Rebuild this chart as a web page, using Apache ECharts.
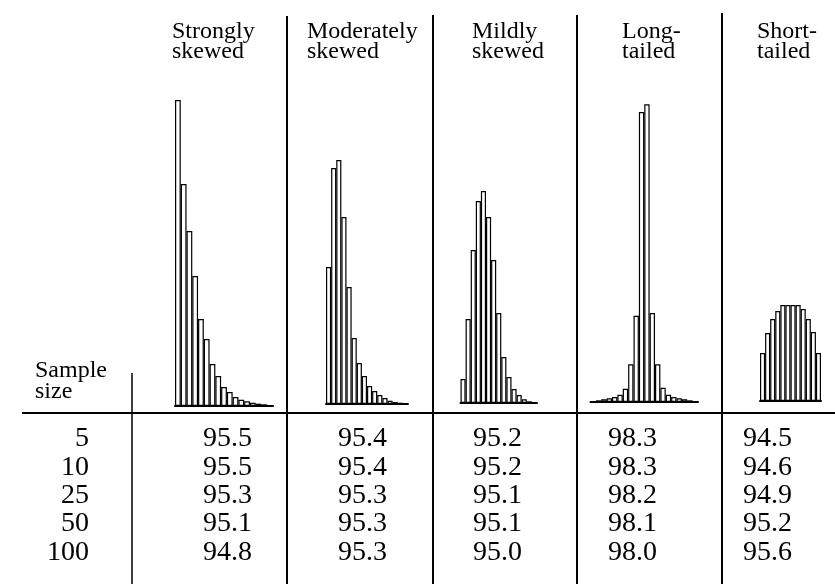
<!DOCTYPE html>
<html>
<head>
<meta charset="utf-8">
<script src="https://cdn.jsdelivr.net/npm/echarts@6/dist/echarts.min.js"></script>
<style>html,body{margin:0;padding:0;background:#fff;}#c{width:835px;height:584px;}</style>
</head>
<body>
<div id="c"></div>
<script>
// ---- data ----
const distributions = ['Strongly\nskewed', 'Moderately\nskewed', 'Mildly\nskewed', 'Long-\ntailed', 'Short-\ntailed'];
const sampleSizes = ['5', '10', '25', '50', '100'];

const coverageStrong   = [95.5, 95.5, 95.3, 95.1, 94.8];
const coverageModerate = [95.4, 95.4, 95.3, 95.3, 95.3];
const coverageMild     = [95.2, 95.2, 95.1, 95.1, 95.0];
const coverageLong     = [98.3, 98.3, 98.2, 98.1, 98.0];
const coverageShort    = [94.5, 94.6, 94.9, 95.2, 95.6];

// histogram bar heights (relative frequency)
const histStrong   = [306, 222, 175, 130, 87, 67, 42, 30, 19, 14, 9, 6.3, 4.7, 3.3, 2.3, 1.7, 1];
const histModerate = [137, 236, 244, 187, 117, 66, 41, 28, 18, 13, 9, 6, 3.3, 2, 1.3, 0.7];
const histMild     = [24, 84, 153, 202, 212, 186, 143, 90, 46, 26, 14, 8, 3.7, 1.7, 0.7];
const histLong     = [1, 1.7, 2.7, 3.7, 5, 7.3, 13.3, 37.7, 86.3, 290, 297.7, 89, 37.7, 14.3, 7.3, 5, 3.7, 2.7, 1.7, 1];
const histShort    = [48, 68, 82, 90, 96, 96, 96, 96, 92, 82, 69, 48];

// ---- layout ----
const FONT = 'Liberation Serif';
const H = 310;
const panels = [
  { data: histStrong,   left: 175,   width: 98,    base: 406 },
  { data: histModerate, left: 326,   width: 82,    base: 404 },
  { data: histMild,     left: 460.5, width: 76.5,  base: 403 },
  { data: histLong,     left: 590.5, width: 107.5, base: 402 },
  { data: histShort,    left: 760,   width: 61,    base: 401 }
];
const headerLeft = [172, 307, 472, 622, 757];
const coverage = [coverageStrong, coverageModerate, coverageMild, coverageLong, coverageShort];

const grid = [], xAxis = [], yAxis = [], series = [];
panels.forEach((p, i) => {
  grid.push({ left: p.left, width: p.width, top: p.base - H, height: H });
  xAxis.push({
    type: 'category', gridIndex: i, data: p.data.map((_, k) => k),
    axisLabel: { show: false }, axisTick: { show: false },
    axisLine: { show: true, lineStyle: { color: '#000', width: 2 } }
  });
  yAxis.push({ type: 'value', gridIndex: i, min: 0, max: H, show: false, splitLine: { show: false } });
  series.push({
    type: 'bar', xAxisIndex: i, yAxisIndex: i, data: p.data,
    barCategoryGap: '0%', silent: true,
    itemStyle: { color: '#fff', borderColor: '#000', borderWidth: 1.2 }
  });
});

// table grid
const T = panels.length;
grid.push({ left: 160, width: 700, top: 424.85, height: 141.5 });
xAxis.push({ type: 'category', gridIndex: T, data: distributions, show: false });
yAxis.push({
  type: 'category', gridIndex: T, data: sampleSizes, inverse: true,
  axisLine: { show: false }, axisTick: { show: false }, splitLine: { show: false },
  axisLabel: { interval: 0, fontFamily: FONT, fontSize: 28, color: '#000', margin: 71, align: 'right' }
});
const tableData = [];
coverage.forEach((vals, j) => vals.forEach((v, i) => tableData.push([j, i, v])));
series.push({
  type: 'scatter', xAxisIndex: T, yAxisIndex: T, data: tableData, symbolSize: 0, silent: true,
  itemStyle: { opacity: 1 },
  label: {
    show: true, position: 'inside', fontFamily: FONT, fontSize: 28, color: '#000',
    formatter: p => p.value[2].toFixed(1)
  }
});

const title = distributions.map((d, i) => ({
  text: d, left: headerLeft[i], top: 22, padding: 0,
  textStyle: { fontFamily: FONT, fontSize: 24, fontWeight: 'normal', color: '#000', lineHeight: 20 }
}));
title.push({
  text: 'Sample\nsize', left: 35, top: 360, padding: 0,
  textStyle: { fontFamily: FONT, fontSize: 24, fontWeight: 'normal', color: '#000', lineHeight: 21 }
});

const ln = (x1, y1, x2, y2, w) => ({
  type: 'line', silent: true, shape: { x1, y1, x2, y2 },
  style: { stroke: '#000', lineWidth: w }
});
const graphic = [
  ln(22, 413, 835, 413, 2),
  ln(132, 373, 132, 584, 1.5),
  ln(287, 16, 287, 584, 2),
  ln(433, 15, 433, 584, 2),
  ln(577, 15, 577, 584, 2),
  ln(722, 13, 722, 584, 2)
];

const chart = echarts.init(document.getElementById('c'), null, { renderer: 'canvas' });
chart.setOption({
  animation: false,
  backgroundColor: '#fff',
  title, grid, xAxis, yAxis, series, graphic
});
</script>
</body>
</html>
